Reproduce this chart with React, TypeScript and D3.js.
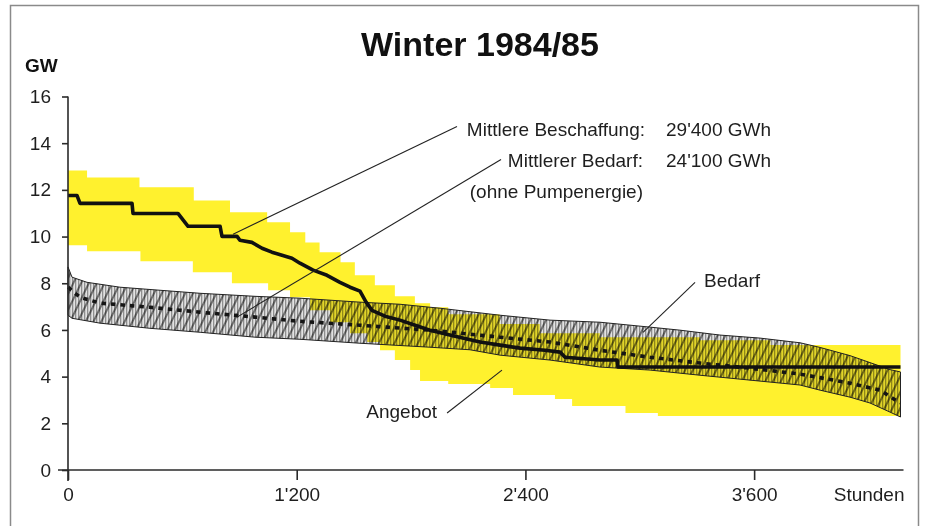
import * as React from "react";
import * as d3 from "d3";

// Winterhalbjahr: 182 Tage
const HOURS = 4368;

// Angebot (gelbes Band), Stufen [ab Stunde, GW]
const angebotTop = [
    [0, 12.83], [100, 12.53], [375, 12.11], [660, 11.55], [850, 11.04], [1045, 10.61],
    [1165, 10.18], [1245, 9.75], [1320, 9.33], [1430, 8.9], [1505, 8.34], [1610, 7.91],
    [1715, 7.44], [1820, 7.14], [1900, 6.97], [1995, 6.67], [2265, 6.25], [2475, 5.86],
    [2790, 5.69], [3315, 5.56], [3685, 5.35],
];
const angebotBottom = [
    [0, 9.63], [100, 9.37], [380, 8.94], [655, 8.47], [860, 8.0], [1050, 7.7], [1165, 7.4],
    [1270, 6.84], [1375, 6.33], [1480, 5.86], [1570, 5.48], [1637, 5.13], [1715, 4.71],
    [1795, 4.28], [1847, 3.81], [1995, 3.68], [2215, 3.51], [2335, 3.21], [2555, 3.04],
    [2645, 2.74], [2925, 2.44], [3095, 2.31],
];

// Mittlere Beschaffung (schwarze Treppenlinie)
const beschaffungMean = [
    [0, 11.76], [47, 11.76], [63, 11.42], [336, 11.42], [341, 10.99], [577, 10.99],
    [630, 10.44], [798, 10.44], [808, 10.01], [887, 10.01], [902, 9.84], [965, 9.75],
    [1018, 9.5], [1070, 9.33], [1123, 9.2], [1175, 9.07], [1217, 8.86], [1286, 8.56],
    [1359, 8.34], [1427, 8.04], [1480, 7.83], [1532, 7.66], [1564, 7.19], [1595, 6.84],
    [1663, 6.59], [1742, 6.42], [1821, 6.2], [1899, 5.99], [2031, 5.73], [2162, 5.48],
    [2267, 5.35], [2372, 5.22], [2503, 5.13], [2582, 5.05], [2608, 4.83], [2791, 4.71],
    [2881, 4.71], [2886, 4.41], [4368, 4.41],
];

// Bedarf (schraffiertes Band)
const bedarfTop = [
    [0, 8.7], [21, 8.26], [100, 8.04], [273, 7.83], [483, 7.7], [693, 7.57], [981, 7.44],
    [1217, 7.36], [1532, 7.19], [1742, 7.1], [1952, 6.93], [2267, 6.63], [2529, 6.42],
    [2791, 6.33], [3054, 6.12], [3211, 5.99], [3421, 5.78], [3631, 5.65], [3841, 5.45],
    [3946, 5.25], [4103, 4.9], [4208, 4.6], [4313, 4.3], [4368, 4.2],
];
const bedarfBottom = [
    [0, 6.63], [21, 6.5], [168, 6.29], [430, 6.07], [693, 5.9], [981, 5.69], [1217, 5.6],
    [1532, 5.43], [1899, 5.26], [2109, 5.15], [2267, 4.92], [2529, 4.71], [2791, 4.41],
    [3054, 4.28], [3316, 4.06], [3579, 3.85], [3841, 3.64], [3946, 3.42], [4103, 3.12],
    [4208, 2.87], [4313, 2.48], [4368, 2.27],
];

// Mittlerer Bedarf (gepunktete Linie)
const bedarfMean = [
    [0, 7.83], [63, 7.4], [168, 7.15], [430, 6.97], [693, 6.76], [981, 6.55], [1217, 6.37],
    [1532, 6.2], [1899, 5.99], [2267, 5.69], [2529, 5.48], [2791, 5.13], [3054, 4.83],
    [3316, 4.58], [3579, 4.36], [3841, 4.11], [4103, 3.72], [4261, 3.42], [4366, 2.87],
];

const yTicks = [0, 2, 4, 6, 8, 10, 12, 14, 16];
const xTicks = [0, 1200, 2400, 3600];
const xTickLabels = ["0", "1'200", "2'400", "3'600"];

// Hinweislinien: von [Stunde, GW] nach [Stunde, GW]
const leaders = {
    beschaffung: [[866, 10.1], [2041, 14.72]],
    bedarfMittel: [[887, 6.55], [2272, 13.3]],
    bedarf: [[3017, 5.9], [3290, 8.04]],
    angebot: [[1989, 2.44], [2277, 4.28]],
};

const FONT = "'Liberation Sans', Arial, Helvetica, sans-serif";
const YELLOW = "#fff12e";

function stepAt(steps, h) {
    let v = steps[0][1];
    for (const [s, g] of steps) if (s <= h) v = g;
    return v;
}

export default function App() {
    const ref = React.useRef(null);

    React.useEffect(() => {
        document.body.style.margin = "0";
        const svg = d3.select(ref.current);
        svg.selectAll("*").remove();

        const x = d3.scaleLinear().domain([0, HOURS]).range([68, 900.5]);
        const y = d3.scaleLinear().domain([0, 16]).range([470, 96.5]);

        // frame
        svg.append("rect")
            .attr("x", 10.5).attr("y", 5.5)
            .attr("width", 908).attr("height", 540)
            .attr("fill", "none").attr("stroke", "#8a8a8a").attr("stroke-width", 1.5);

        // patterns for the hatched demand band
        const defs = svg.append("defs");
        const vl = defs.append("pattern").attr("id", "vlines")
            .attr("patternUnits", "userSpaceOnUse").attr("width", 3).attr("height", 3);
        vl.append("rect").attr("width", 3).attr("height", 3).attr("fill", "#e2e2e2");
        vl.append("rect").attr("width", 1.3).attr("height", 3).attr("fill", "#8f8f8f");
        const dg = defs.append("pattern").attr("id", "diag")
            .attr("patternUnits", "userSpaceOnUse").attr("width", 7).attr("height", 10)
            .attr("patternTransform", "rotate(26)");
        dg.append("line").attr("x1", 1).attr("x2", 1).attr("y1", 0).attr("y2", 10)
            .attr("stroke", "#1a1a1a").attr("stroke-width", 1.1);

        // yellow supply band
        const breaks = Array.from(new Set([
            ...angebotTop.map(d => d[0]), ...angebotBottom.map(d => d[0]), HOURS
        ])).sort((a, b) => a - b);
        const yellowRows = breaks.map(h => ({
            h, top: stepAt(angebotTop, h), bottom: stepAt(angebotBottom, h)
        }));
        const yellowArea = d3.area()
            .curve(d3.curveStepAfter)
            .x(d => x(d.h)).y0(d => y(d.bottom)).y1(d => y(d.top));
        svg.append("path").attr("d", yellowArea(yellowRows)).attr("fill", YELLOW);

        // hatched demand band
        const ring = [...bedarfTop, ...bedarfBottom.slice().reverse()];
        const ringLine = d3.line().x(d => x(d[0])).y(d => y(d[1]));
        const ringD = ringLine(ring) + "Z";
        svg.append("path").attr("d", ringD).attr("fill", "url(#vlines)")
            .style("mix-blend-mode", "multiply");
        svg.append("path").attr("d", ringD).attr("fill", "url(#diag)")
            .style("mix-blend-mode", "multiply");
        svg.append("path").attr("d", ringD).attr("fill", "none")
            .attr("stroke", "#222").attr("stroke-width", 1);

        // mean demand (dotted)
        svg.append("path")
            .attr("d", d3.line().x(d => x(d[0])).y(d => y(d[1]))(bedarfMean))
            .attr("fill", "none").attr("stroke", "#151515")
            .attr("stroke-width", 3.6).attr("stroke-dasharray", "4.5 5");

        // mean procurement
        svg.append("path")
            .attr("d", d3.line().x(d => x(d[0])).y(d => y(d[1]))(beschaffungMean))
            .attr("fill", "none").attr("stroke", "#111")
            .attr("stroke-width", 3.6).attr("stroke-linejoin", "round");

        // axes
        const gy = svg.append("g").attr("transform", `translate(${x(0)},0)`)
            .call(d3.axisLeft(y).tickValues(yTicks).tickSize(6).tickSizeOuter(0).tickPadding(11));
        gy.select(".domain").attr("d", `M0,${y(16)}V${y(0) + 11}`);
        const gx = svg.append("g").attr("transform", `translate(0,${y(0)})`)
            .call(d3.axisBottom(x).tickValues(xTicks).tickFormat((d, i) => xTickLabels[i])
                .tickSize(10).tickSizeOuter(0).tickPadding(8));
        gx.select(".domain").attr("d", `M${x(0) - 10},0H${x(HOURS) + 3}`);
        [gx, gy].forEach(g => {
            g.selectAll("path, line").attr("stroke", "#2a2a2a").attr("stroke-width", 1.6);
            g.selectAll("text").attr("font-family", FONT).attr("font-size", 19).attr("fill", "#1e1e1e");
        });

        svg.append("text").attr("x", x(HOURS) + 4).attr("y", y(0) + 18).attr("dy", "0.71em")
            .attr("text-anchor", "end").attr("font-family", FONT).attr("font-size", 19)
            .attr("fill", "#1e1e1e").text("Stunden");

        svg.append("text").attr("x", 25).attr("y", 72)
            .attr("font-family", FONT).attr("font-size", 19).attr("font-weight", "bold")
            .attr("fill", "#111").text("GW");

        svg.append("text").attr("x", 480).attr("y", 56)
            .attr("text-anchor", "middle").attr("font-family", FONT).attr("font-size", 34)
            .attr("font-weight", "bold").attr("fill", "#111").text("Winter 1984/85");

        // leader lines
        Object.values(leaders).forEach(([a, b]) => {
            svg.append("line")
                .attr("x1", x(a[0])).attr("y1", y(a[1]))
                .attr("x2", x(b[0])).attr("y2", y(b[1]))
                .attr("stroke", "#222").attr("stroke-width", 1.1);
        });

        const label = (tx, ty, t, anchor = "start") => svg.append("text")
            .attr("x", tx).attr("y", ty).attr("text-anchor", anchor)
            .attr("font-family", FONT).attr("font-size", 19).attr("fill", "#1e1e1e").text(t);

        label(645, 136, "Mittlere Beschaffung:", "end");
        label(666, 136, "29'400 GWh");
        label(643, 167, "Mittlerer Bedarf:", "end");
        label(666, 167, "24'100 GWh");
        label(643, 198, "(ohne Pumpenergie)", "end");
        label(x(leaders.bedarf[1][0]) + 9, y(leaders.bedarf[1][1]) + 5, "Bedarf");
        label(x(leaders.angebot[0][0]) - 10, y(leaders.angebot[0][1]) + 5, "Angebot", "end");
    }, []);

    return (
        <svg ref={ref} width={925} height={526} style={{ display: "block", background: "#fff" }} />
    );
}
